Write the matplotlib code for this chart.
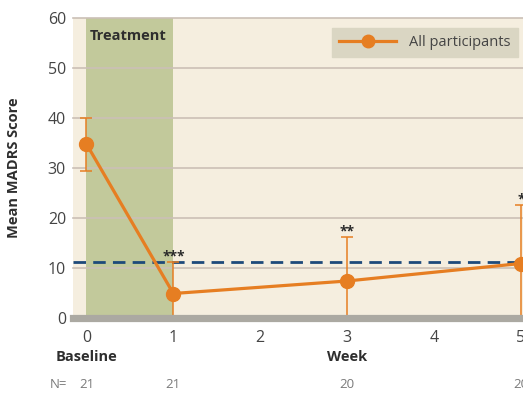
import matplotlib.pyplot as plt
from matplotlib.lines import Line2D

plt.rcParams["font.family"] = ["Open Sans", "DejaVu Sans"]

# values
weeks = [0, 1, 3, 5]
madrs_mean = [34.8, 4.9, 7.4, 10.9]
err_low = [29.5, 0.0, 0.0, 0.0]
err_high = [40.1, 11.3, 16.3, 22.6]
stars = ["", "***", "**", "*"]
n_labels = ["21", "21", "20", "20"]
threshold = 11.3
x_ticks = [0, 1, 2, 3, 4, 5]
y_ticks = [0, 10, 20, 30, 40, 50, 60]

bg = "#F5EEDF"
green = "#C2C99B"
orange = "#E67E22"
navy = "#1D4A7A"
grid = "#CBC0B6"
txt = "#444444"

fig = plt.figure(figsize=(5.23, 4.04), dpi=100)
fig.patch.set_facecolor("white")
ax = fig.add_axes([73 / 523, 86 / 404, 450 / 523, 300 / 404])
ax.set_facecolor(bg)
ax.set_xlim(-0.155, 5.025)
ax.set_ylim(0, 60)

for s in ax.spines.values():
    s.set_visible(False)

ax.set_yticks(y_ticks)
ax.set_xticks(x_ticks)
ax.tick_params(length=0, labelsize=11.5, labelcolor=txt, pad=5)
ax.tick_params(axis="x", pad=9)
for y in y_ticks[1:]:
    ax.axhline(y, color=grid, lw=1.2, zorder=1, clip_on=False)

# treatment window
ax.axvspan(0, 1, color=green, zorder=0.5, lw=0)
ax.text(0.04, 56.3, "Treatment", fontsize=10.5, fontweight="bold", color="#2E2E2E",
        va="center", ha="left", zorder=5)

# bottom bar
ax.axhline(0, color="#ABA9A2", lw=5.2, zorder=6, clip_on=False)

# remission threshold
ax.axhline(threshold, color=navy, lw=2.0, dashes=(4.5, 2.6), zorder=3)

lower = [m - l for m, l in zip(madrs_mean, err_low)]
upper = [h - m for m, h in zip(madrs_mean, err_high)]
ax.errorbar(weeks, madrs_mean, yerr=[lower, upper], fmt="none", ecolor=orange,
            elinewidth=1.1, capsize=4, capthick=1.1, zorder=4, clip_on=False)
ax.plot(weeks, madrs_mean, color=orange, lw=2.3, marker="o", markersize=10,
        zorder=5, clip_on=False)

for x, h, s in zip(weeks, err_high, stars):
    if s:
        ax.text(x, h - 0.3, s, ha="center", va="bottom", fontsize=10,
                fontweight="bold", color="#2A2A2A", zorder=6)

# legend
handle = Line2D([], [], color=orange, lw=2.3, marker="o", markersize=9)
leg = ax.legend([handle], ["All participants"], loc="upper left",
                bbox_to_anchor=(0.5756, 0.967), borderaxespad=0, frameon=True,
                fontsize=10.5, handlelength=3.9, borderpad=0.5, fancybox=False,
                labelcolor=txt, handletextpad=0.9)
leg.get_frame().set_facecolor("#DAD6C3")
leg.get_frame().set_edgecolor("#DAD6C3")
leg.get_frame().set_alpha(1)

ax.set_ylabel("Mean MADRS Score", fontsize=10.5, fontweight="bold", color="#2E2E2E")
ax.yaxis.set_label_coords(-0.115, 0.5)

# labels under the axis
ax.text(0, -7.8, "Baseline", ha="center", va="center", fontsize=10.5,
        fontweight="bold", color="#2E2E2E", clip_on=False)
ax.text(3, -7.8, "Week", ha="center", va="center", fontsize=10.5,
        fontweight="bold", color="#2E2E2E", clip_on=False)
ax.text(-0.22, -13.2, "N=", ha="right", va="center", fontsize=9.5,
        color="#7A7A7A", clip_on=False)
for x, n in zip(weeks, n_labels):
    ax.text(x, -13.2, n, ha="center", va="center", fontsize=9.5,
            color="#7A7A7A", clip_on=False)

fig.savefig("out.png", dpi=100, facecolor="white")
